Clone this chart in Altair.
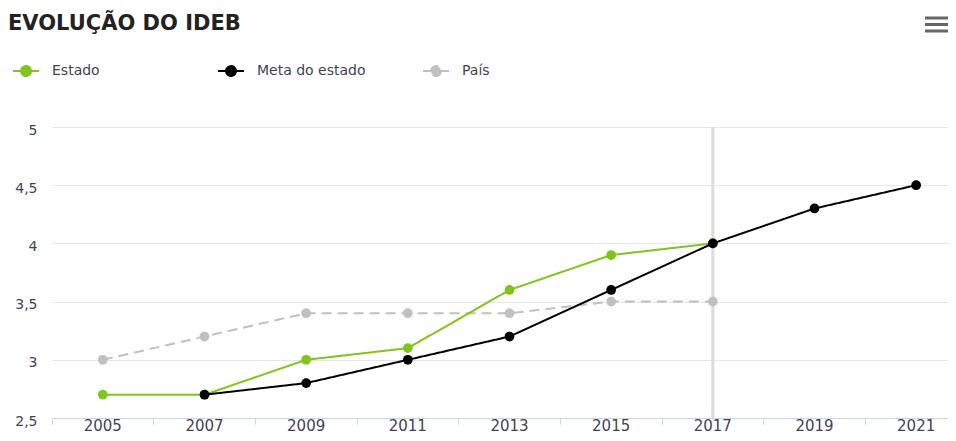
import altair as alt
import pandas as pd

# ---- data ----
years = ["2005", "2007", "2009", "2011", "2013", "2015", "2017", "2019", "2021"]

estado_years = ["2005", "2007", "2009", "2011", "2013", "2015", "2017"]
estado_vals = [2.7, 2.7, 3.0, 3.1, 3.6, 3.9, 4.0]

meta_years = ["2007", "2009", "2011", "2013", "2015", "2017", "2019", "2021"]
meta_vals = [2.7, 2.8, 3.0, 3.2, 3.6, 4.0, 4.3, 4.5]

pais_years = ["2005", "2007", "2009", "2011", "2013", "2015", "2017"]
pais_vals = [3.0, 3.2, 3.4, 3.4, 3.4, 3.5, 3.5]

series_names = ["Estado", "Meta do estado", "País"]
series_colors = ["#80c41c", "#000000", "#c0c0c0"]
series_dashes = [[1, 0], [1, 0], [10, 6]]
y_ticks = [2.5, 3, 3.5, 4, 4.5, 5]
highlight_year = "2017"
title_text = "EVOLUÇÃO DO IDEB"

rows = []
for name, yrs, vals in [("Estado", estado_years, estado_vals),
                        ("Meta do estado", meta_years, meta_vals),
                        ("País", pais_years, pais_vals)]:
    for yr, v in zip(yrs, vals):
        rows.append({"ano": yr, "valor": v, "serie": name})
df = pd.DataFrame(rows)

FONT = "DejaVu Sans"
LABEL_COLOR = "#3f4452"
W, H = 896, 291          # visible plot box (svg stays inside the window)
X_RANGE = 915            # full category range; the last half band runs past the window edge
PAD_L, PAD_T = 44, 119

legend_path = ("M-1,0L1,0M-0.38,0A0.38,0.38,0,1,1,0.38,0"
               "A0.38,0.38,0,1,1,-0.38,0Z")

legend = alt.Legend(
    title=None,
    orient="none",
    legendX=-40,
    legendY=-70,
    direction="horizontal",
    gridAlign="all",
    columnPadding=53,
    symbolType=legend_path,
    symbolSize=676,
    symbolStrokeWidth=2,
    symbolOpacity=1,
    labelFont=FONT,
    labelFontSize=14,
    labelColor=LABEL_COLOR,
    labelOffset=12,
)

x_enc = alt.X(
    "ano:O",
    scale=alt.Scale(type="band", domain=years, range=[0, X_RANGE],
                    paddingInner=0, paddingOuter=0),
    axis=alt.Axis(
        title=None,
        bandPosition=0,
        labelOffset=0,
        labelAlign="center",
        labelAngle=0,
        labelFont=FONT,
        labelFontSize=15,
        labelColor=LABEL_COLOR,
        labelPadding=1,
        tickSize=6,
        tickColor="#ccd6eb",
        domainColor="#ccd6eb",
        grid=False,
    ),
)

y_enc = alt.Y(
    "valor:Q",
    scale=alt.Scale(domain=[2.5, 5], nice=False, zero=False),
    axis=alt.Axis(
        title=None,
        values=y_ticks,
        labelExpr="replace(toString(datum.value), '.', ',')",
        labelFont=FONT,
        labelFontSize=14,
        labelColor=LABEL_COLOR,
        labelPadding=15,
        labelOffset=3,
        domain=False,
        ticks=False,
        grid=True,
        gridColor="#e6e6e6",
    ),
)

stroke_enc = alt.Stroke(
    "serie:N", scale=alt.Scale(domain=series_names, range=series_colors), legend=legend
)
fill_enc = alt.Fill(
    "serie:N", scale=alt.Scale(domain=series_names, range=series_colors), legend=legend
)
dash_enc = alt.StrokeDash(
    "serie:N", scale=alt.Scale(domain=series_names, range=series_dashes), legend=legend
)

base = alt.Chart(df)

crosshair = alt.Chart(pd.DataFrame({"ano": [highlight_year]})).mark_rule(
    color="#dcdcdc", strokeWidth=3
).encode(x=alt.X("ano:O"))

layers = [crosshair]
for name in ["País", "Estado", "Meta do estado"]:
    sub = base.transform_filter(alt.datum.serie == name)
    layers.append(
        sub.mark_line(strokeWidth=2).encode(
            x=x_enc, y=y_enc, stroke=stroke_enc, strokeDash=dash_enc
        )
    )
    layers.append(
        sub.mark_point(filled=True, size=95, opacity=1).encode(
            x=x_enc, y=y_enc, fill=fill_enc
        )
    )

# chart title
layers.append(
    alt.Chart(pd.DataFrame({"a": [0]})).mark_text(
        align="left", baseline="alphabetic", font=FONT, fontSize=21,
        fontWeight="bold", color="#222222"
    ).encode(x=alt.value(-44), y=alt.value(-97), text=alt.value(title_text))
)

# export-menu icon (decoration)
for yy in [-109, -102.5, -96]:
    layers.append(
        alt.Chart(pd.DataFrame({"a": [0]})).mark_rule(color="#666666", strokeWidth=3).encode(
            x=alt.value(873), x2=alt.value(900), y=alt.value(yy)
        )
    )

chart = alt.layer(*layers).properties(
    width=W,
    height=H,
    autosize=alt.AutoSizeParams(type="none"),
    padding={"left": PAD_L, "top": PAD_T, "right": 0, "bottom": 425 - PAD_T - H},
).configure_view(stroke=None)

chart.save("out.html", embed_options={"renderer": "svg", "actions": False})
